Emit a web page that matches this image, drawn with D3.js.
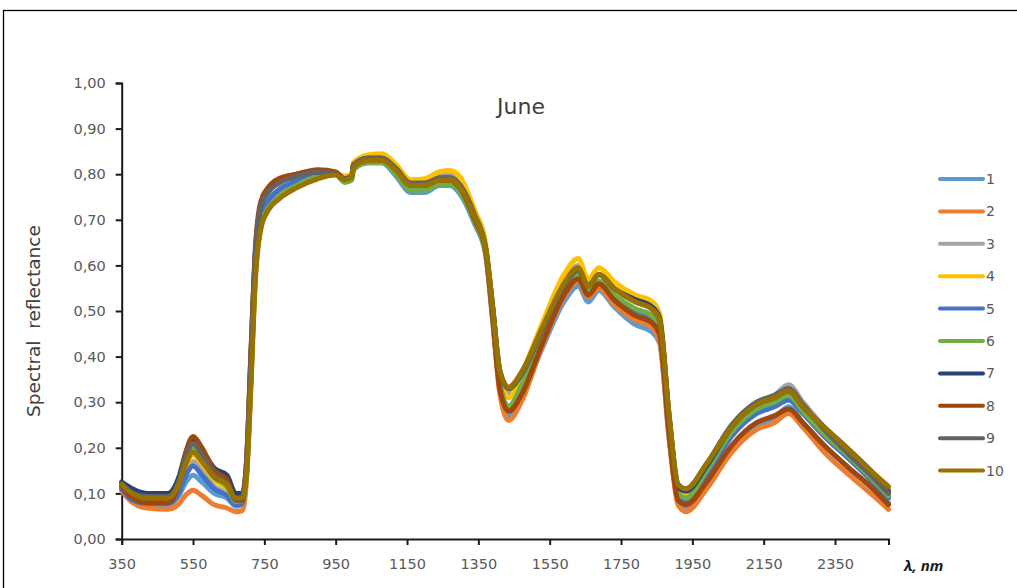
<!DOCTYPE html>
<html>
<head>
<meta charset="utf-8">
<script src="https://cdn.jsdelivr.net/npm/d3@7"></script>
<style>
  body { margin: 0; background: #fff; }
  svg { display: block; font-family: "DejaVu Sans", sans-serif; }
</style>
</head>
<body>
<div id="chart"></div>
<script>
// wavelengths (nm)
var wl = [350, 380, 420, 480, 510, 530, 550, 575, 610, 645, 670, 688, 700, 712, 725, 740, 760, 790, 840, 900,
          950, 975, 995, 1000, 1040, 1080, 1120, 1160, 1200, 1240, 1270, 1300, 1340, 1370, 1390, 1410, 1435, 1470, 1530, 1590,
          1630, 1658, 1688, 1730, 1790, 1835, 1858, 1885, 1910, 1932, 1990, 2060, 2130, 2180, 2220, 2260, 2320, 2390, 2450, 2500];

var s1 = [0.110, 0.085, 0.075, 0.075, 0.095, 0.125, 0.140, 0.125, 0.100, 0.090, 0.072, 0.075, 0.140, 0.350, 0.600, 0.700, 0.740, 0.765, 0.785, 0.800,
          0.800, 0.788, 0.792, 0.810, 0.825, 0.825, 0.795, 0.760, 0.760, 0.775, 0.775, 0.755, 0.690, 0.625, 0.480, 0.330, 0.270, 0.310, 0.420, 0.520,
          0.555, 0.520, 0.545, 0.510, 0.470, 0.455, 0.430, 0.220, 0.085, 0.070, 0.120, 0.200, 0.250, 0.265, 0.290, 0.255, 0.205, 0.155, 0.115, 0.080];
var s2 = [0.105, 0.080, 0.068, 0.065, 0.077, 0.097, 0.107, 0.095, 0.075, 0.068, 0.060, 0.062, 0.130, 0.340, 0.600, 0.700, 0.735, 0.760, 0.785, 0.800,
          0.800, 0.792, 0.797, 0.825, 0.840, 0.842, 0.815, 0.775, 0.772, 0.785, 0.787, 0.770, 0.700, 0.630, 0.480, 0.320, 0.260, 0.300, 0.425, 0.530,
          0.565, 0.530, 0.550, 0.515, 0.480, 0.465, 0.435, 0.220, 0.075, 0.060, 0.110, 0.190, 0.240, 0.255, 0.275, 0.245, 0.190, 0.140, 0.100, 0.065];
var s3 = [0.115, 0.090, 0.080, 0.080, 0.105, 0.150, 0.170, 0.150, 0.115, 0.100, 0.078, 0.080, 0.150, 0.370, 0.610, 0.710, 0.745, 0.765, 0.785, 0.800,
          0.800, 0.790, 0.795, 0.820, 0.835, 0.838, 0.815, 0.785, 0.785, 0.797, 0.798, 0.780, 0.710, 0.640, 0.500, 0.360, 0.320, 0.355, 0.460, 0.560,
          0.600, 0.560, 0.580, 0.550, 0.520, 0.505, 0.480, 0.260, 0.110, 0.100, 0.160, 0.245, 0.300, 0.315, 0.338, 0.300, 0.245, 0.185, 0.140, 0.100];
var s4 = [0.115, 0.095, 0.085, 0.085, 0.115, 0.160, 0.185, 0.165, 0.130, 0.110, 0.080, 0.080, 0.140, 0.340, 0.580, 0.680, 0.720, 0.750, 0.775, 0.795,
          0.800, 0.796, 0.800, 0.825, 0.842, 0.845, 0.820, 0.788, 0.790, 0.805, 0.808, 0.792, 0.720, 0.650, 0.510, 0.360, 0.310, 0.360, 0.475, 0.580,
          0.615, 0.570, 0.595, 0.565, 0.535, 0.522, 0.495, 0.270, 0.115, 0.100, 0.160, 0.240, 0.290, 0.305, 0.320, 0.290, 0.240, 0.190, 0.150, 0.110];
var s5 = [0.110, 0.085, 0.078, 0.078, 0.100, 0.140, 0.160, 0.140, 0.110, 0.095, 0.075, 0.078, 0.145, 0.360, 0.600, 0.700, 0.740, 0.765, 0.785, 0.800,
          0.800, 0.788, 0.793, 0.815, 0.830, 0.830, 0.805, 0.770, 0.770, 0.782, 0.783, 0.765, 0.700, 0.635, 0.490, 0.340, 0.290, 0.330, 0.440, 0.545,
          0.580, 0.540, 0.565, 0.535, 0.500, 0.485, 0.460, 0.240, 0.095, 0.085, 0.140, 0.225, 0.275, 0.290, 0.305, 0.275, 0.225, 0.175, 0.130, 0.090];
var s6 = [0.115, 0.095, 0.085, 0.085, 0.120, 0.175, 0.200, 0.175, 0.135, 0.115, 0.082, 0.085, 0.145, 0.350, 0.580, 0.690, 0.725, 0.750, 0.775, 0.795,
          0.800, 0.782, 0.787, 0.810, 0.825, 0.825, 0.800, 0.765, 0.765, 0.778, 0.778, 0.760, 0.695, 0.630, 0.490, 0.340, 0.290, 0.335, 0.450, 0.550,
          0.580, 0.545, 0.565, 0.535, 0.505, 0.490, 0.465, 0.245, 0.100, 0.090, 0.150, 0.235, 0.285, 0.300, 0.315, 0.280, 0.230, 0.180, 0.135, 0.095];
var s7 = [0.125, 0.110, 0.100, 0.100, 0.135, 0.190, 0.220, 0.195, 0.155, 0.140, 0.100, 0.100, 0.170, 0.400, 0.630, 0.730, 0.765, 0.785, 0.800, 0.805,
          0.800, 0.790, 0.795, 0.820, 0.835, 0.835, 0.810, 0.780, 0.780, 0.790, 0.790, 0.772, 0.705, 0.640, 0.510, 0.370, 0.330, 0.360, 0.460, 0.555,
          0.590, 0.555, 0.580, 0.550, 0.525, 0.510, 0.485, 0.270, 0.115, 0.105, 0.160, 0.245, 0.295, 0.310, 0.325, 0.290, 0.245, 0.195, 0.150, 0.105];
var s8 = [0.115, 0.090, 0.080, 0.080, 0.120, 0.190, 0.225, 0.200, 0.150, 0.130, 0.085, 0.085, 0.170, 0.400, 0.640, 0.740, 0.770, 0.790, 0.800, 0.810,
          0.805, 0.790, 0.795, 0.820, 0.835, 0.835, 0.810, 0.775, 0.775, 0.787, 0.787, 0.768, 0.700, 0.635, 0.490, 0.330, 0.280, 0.315, 0.430, 0.535,
          0.570, 0.535, 0.560, 0.525, 0.490, 0.475, 0.450, 0.230, 0.085, 0.075, 0.125, 0.205, 0.255, 0.270, 0.285, 0.255, 0.205, 0.155, 0.115, 0.075];
var s9 = [0.120, 0.100, 0.093, 0.093, 0.125, 0.180, 0.210, 0.185, 0.140, 0.120, 0.088, 0.090, 0.165, 0.390, 0.630, 0.730, 0.760, 0.780, 0.795, 0.805,
          0.800, 0.790, 0.795, 0.820, 0.835, 0.835, 0.812, 0.780, 0.780, 0.792, 0.793, 0.775, 0.710, 0.640, 0.510, 0.370, 0.330, 0.360, 0.460, 0.555,
          0.590, 0.555, 0.580, 0.550, 0.520, 0.505, 0.480, 0.265, 0.120, 0.110, 0.165, 0.250, 0.300, 0.315, 0.330, 0.295, 0.240, 0.185, 0.140, 0.100];
var s10 = [0.120, 0.100, 0.090, 0.090, 0.120, 0.165, 0.190, 0.170, 0.135, 0.120, 0.090, 0.090, 0.140, 0.330, 0.570, 0.680, 0.720, 0.745, 0.770, 0.790,
           0.798, 0.788, 0.793, 0.815, 0.830, 0.830, 0.808, 0.775, 0.775, 0.787, 0.788, 0.770, 0.705, 0.640, 0.510, 0.370, 0.333, 0.365, 0.465, 0.560,
           0.595, 0.555, 0.580, 0.550, 0.520, 0.505, 0.480, 0.270, 0.120, 0.110, 0.165, 0.245, 0.295, 0.310, 0.325, 0.290, 0.245, 0.195, 0.150, 0.115];

var seriesNames = ["1", "2", "3", "4", "5", "6", "7", "8", "9", "10"];
var seriesValues = [s1, s2, s3, s4, s5, s6, s7, s8, s9, s10];
var colors = ["#5B9BD5", "#ED7D31", "#A5A5A5", "#FFC000", "#4472C4", "#70AD47", "#264478", "#9E480E", "#636363", "#997300"];
var xTicks = [350, 550, 750, 950, 1150, 1350, 1550, 1750, 1950, 2150, 2350];
var yTicks = [0, 0.1, 0.2, 0.3, 0.4, 0.5, 0.6, 0.7, 0.8, 0.9, 1.0];

var W = 1017, H = 588;
var svg = d3.select("#chart").append("svg")
    .attr("width", W)
    .attr("height", H);

// frame
svg.append("rect")
    .attr("x", 3.5).attr("y", 10.5)
    .attr("width", W + 10).attr("height", H + 10)
    .attr("fill", "none")
    .attr("stroke", "#000")
    .attr("stroke-width", 1.3);

var x = d3.scaleLinear().domain([350, 2500]).range([121.7, 888.5]);
var y = d3.scaleLinear().domain([0, 1]).range([539, 83]);

var fmt = function(d) { return d3.format(".2f")(d).replace(".", ","); };

// y axis
var gy = svg.append("g")
    .attr("transform", "translate(121.7,0)")
    .call(d3.axisLeft(y).tickValues(yTicks).tickFormat(fmt).tickSize(6).tickPadding(10));
// x axis
var gx = svg.append("g")
    .attr("transform", "translate(0,539)")
    .call(d3.axisBottom(x).tickValues(xTicks).tickFormat(d3.format("d")).tickSize(6).tickPadding(14));

[gx, gy].forEach(function(g) {
    g.select(".domain").attr("stroke", "#1a1a1a").attr("stroke-width", 2);
    g.selectAll(".tick line").attr("stroke", "#1a1a1a").attr("stroke-width", 2);
    g.selectAll(".tick text").attr("fill", "#595959").style("font-size", "14.5px").style("font-family", "'DejaVu Sans', sans-serif");
});

// lines
var line = d3.line()
    .x(function(d) { return x(d[0]); })
    .y(function(d) { return y(d[1]); })
    .curve(d3.curveMonotoneX);

var plot = svg.append("g");
seriesValues.forEach(function(vals, i) {
    var pts = wl.map(function(w, j) { return [w, vals[j]]; });
    plot.append("path")
        .attr("d", line(pts))
        .attr("fill", "none")
        .attr("stroke", colors[i])
        .attr("stroke-width", 5)
        .attr("stroke-linejoin", "round")
        .attr("stroke-linecap", "round");
});

// title
svg.append("text")
    .attr("x", 521).attr("y", 114)
    .attr("text-anchor", "middle")
    .attr("fill", "#404040")
    .style("font-size", "22px")
    .text("June");

// y label
svg.append("text")
    .attr("transform", "translate(40,321) rotate(-90)")
    .attr("text-anchor", "middle")
    .attr("fill", "#404040")
    .style("font-size", "18.5px")
    .style("white-space", "pre")
    .attr("xml:space", "preserve")
    .text("Spectral  reflectance");

// x label
svg.append("text")
    .attr("x", 904).attr("y", 571)
    .attr("fill", "#1a1a1a")
    .style("font-family", "'Open Sans', sans-serif")
    .style("font-size", "15px")
    .style("font-weight", "bold")
    .style("font-style", "italic")
    .text("\u03bb, nm");

// legend
var leg = svg.append("g");
seriesNames.forEach(function(name, i) {
    var ly = 179 + i * 32.4;
    leg.append("line")
        .attr("x1", 940).attr("x2", 983)
        .attr("y1", ly).attr("y2", ly)
        .attr("stroke", colors[i])
        .attr("stroke-width", 4)
        .attr("stroke-linecap", "round");
    leg.append("text")
        .attr("x", 986).attr("y", ly + 5)
        .attr("fill", "#595959")
        .style("font-size", "14px")
        .text(name);
});
</script>
</body>
</html>
